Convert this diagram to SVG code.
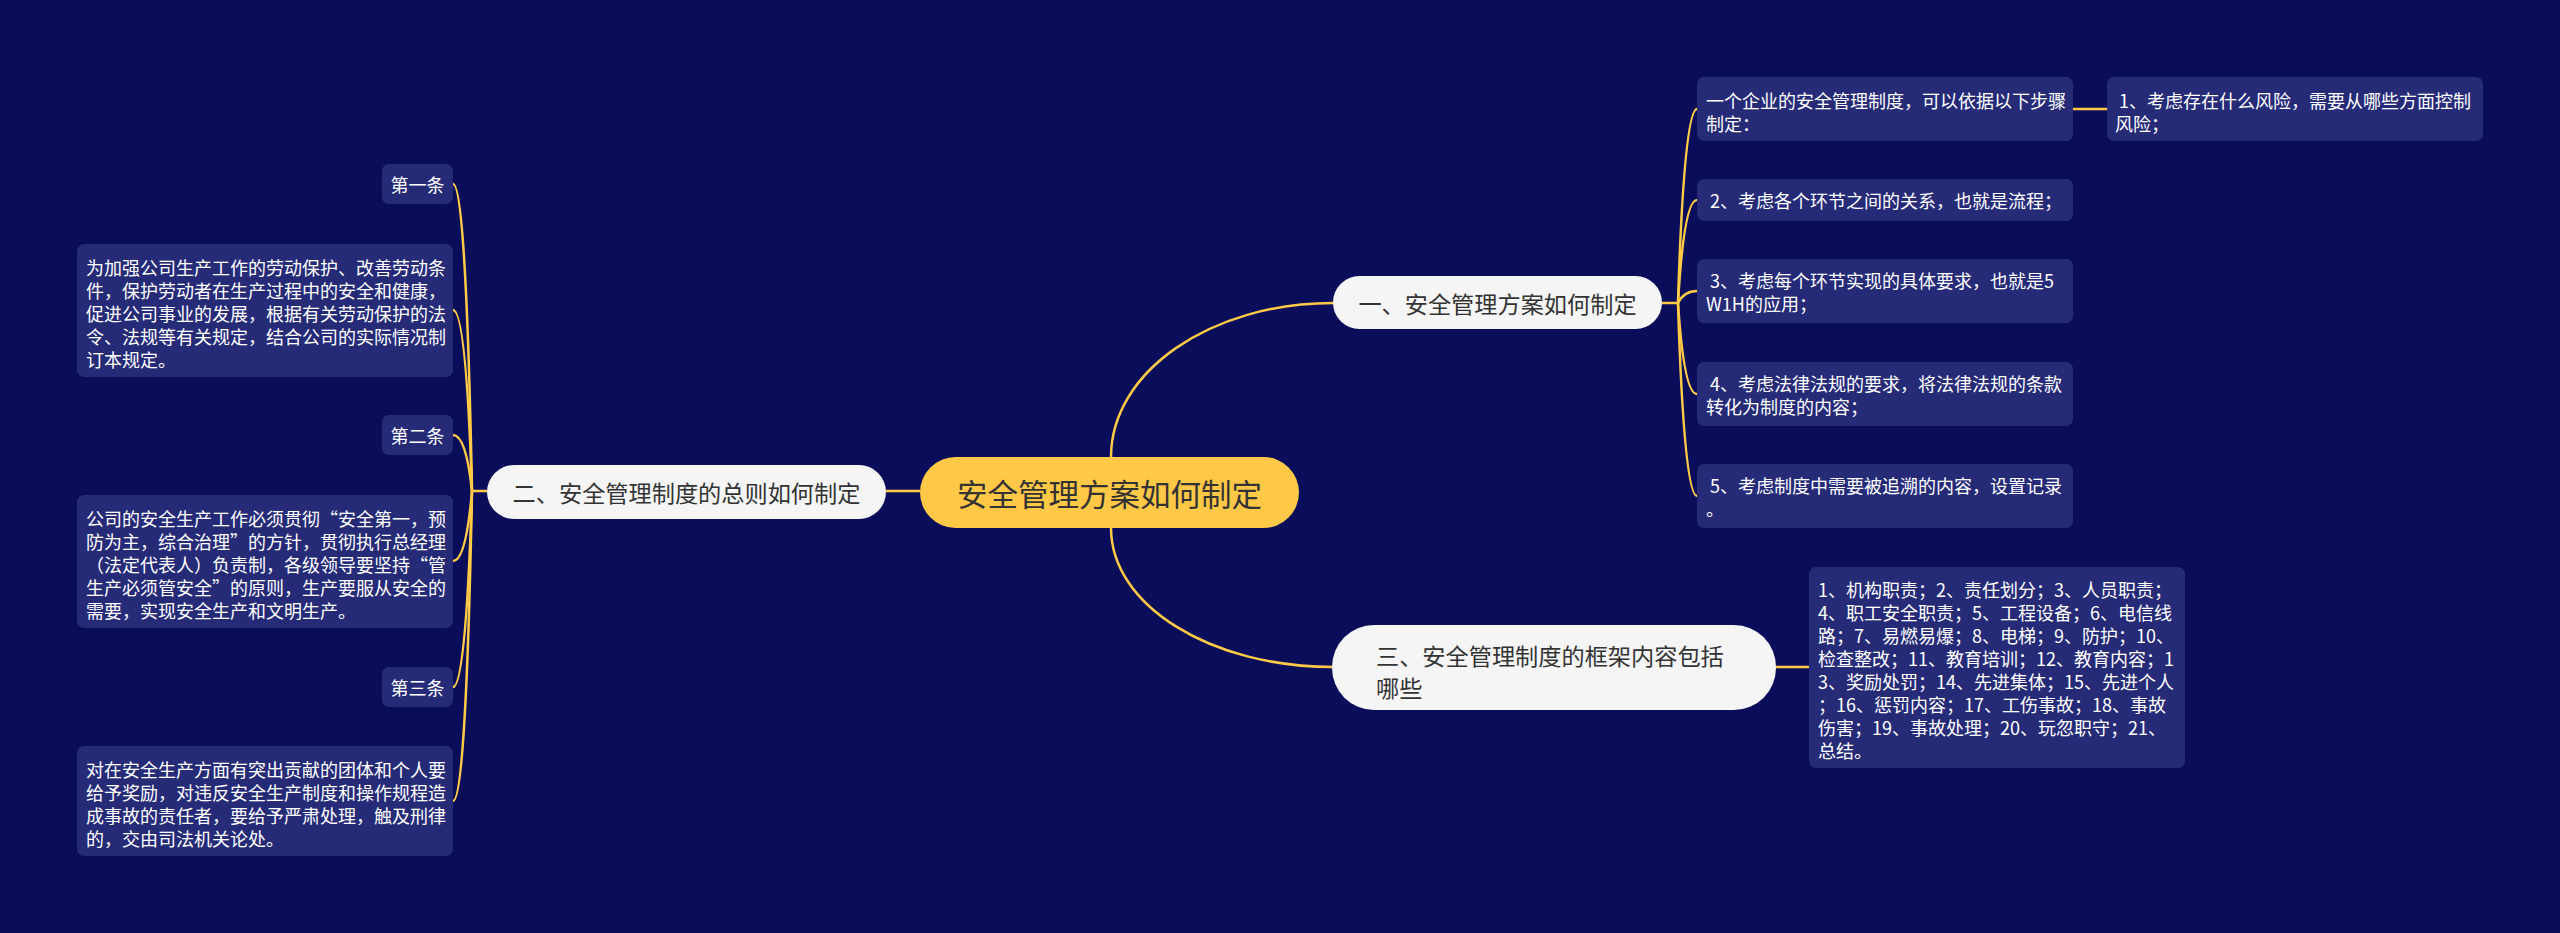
<svg xmlns="http://www.w3.org/2000/svg" width="2560" height="933" viewBox="0 0 2560 933">
<defs>
<style>
.bg{fill:#0A0E5A}
.box{fill:#262B78}
.t{font-family:"Noto Sans CJK SC","Noto Sans",sans-serif;font-size:18px;fill:#FFFFFF;dominant-baseline:central}
.l1{fill:#F5F5F5}
.l1t{font-family:"Noto Sans CJK SC","Noto Sans",sans-serif;font-size:23.2px;fill:#333333;dominant-baseline:central}
.root{fill:#FFC947}
.roott{font-family:"Noto Sans CJK SC","Noto Sans",sans-serif;font-size:30.5px;fill:#333333;dominant-baseline:central}
.c{fill:none;stroke:#FFCB47;stroke-width:2.5}
</style>
</defs>
<rect class="bg" x="0" y="0" width="2560" height="933"/>

<g id="connectors">
<path class="c" d="M1111,457 C1111,372 1210,303 1333,303"/>
<path class="c" d="M1111,528 C1111,605 1210,667 1333,667"/>
<path class="c" d="M886,491 L920,491"/>
<path class="c" d="M487,491 L472,491"/>
<path class="c" d="M472,491 Q466,184 453,184"/>
<path class="c" d="M472,491 Q466,310 453,310"/>
<path class="c" d="M472,491 Q466,435 453,435"/>
<path class="c" d="M472,491 Q466,561 453,561"/>
<path class="c" d="M472,491 Q466,687 453,687"/>
<path class="c" d="M472,491 Q466,801 453,801"/>
<path class="c" d="M1662,303 L1678,303"/>
<path class="c" d="M1678,303 Q1684,109 1697,109"/>
<path class="c" d="M1678,303 Q1684,200 1697,200"/>
<path class="c" d="M1678,303 Q1684,291 1697,291"/>
<path class="c" d="M1678,303 Q1684,394 1697,394"/>
<path class="c" d="M1678,303 Q1684,496 1697,496"/>
<path class="c" d="M2073,109 L2107,109"/>
<path class="c" d="M1776,667 L1809,667"/>
</g>

<g id="root">
<rect class="root" x="920" y="457" width="379" height="71" rx="35.5"/>
<text class="roott" x="1109.5" y="492.5" text-anchor="middle">安全管理方案如何制定</text>
</g>

<g id="n1">
<rect class="l1" x="1333" y="276" width="329" height="53" rx="26.5"/>
<text class="l1t" x="1497.5" y="302.5" text-anchor="middle">一、安全管理方案如何制定</text>
</g>

<g id="n2">
<rect class="l1" x="487" y="465" width="399" height="54" rx="27"/>
<text class="l1t" x="686.5" y="492" text-anchor="middle">二、安全管理制度的总则如何制定</text>
</g>

<g id="n3">
<rect class="l1" x="1332" y="625" width="444" height="85" rx="42"/>
<text class="l1t" x="1376" y="655">三、安全管理制度的框架内容包括</text>
<text class="l1t" x="1376" y="687">哪些</text>
</g>

<g id="n1a">
<rect class="box" x="1697" y="77" width="376" height="64" rx="7"/>
<text class="t" x="1706" y="100">一个企业的安全管理制度，可以依据以下步骤</text>
<text class="t" x="1706" y="123">制定：</text>
</g>
<g id="n1a1">
<rect class="box" x="2107" y="77" width="376" height="64" rx="7"/>
<text class="t" x="2119" y="100">1、考虑存在什么风险，需要从哪些方面控制</text>
<text class="t" x="2115" y="123">风险；</text>
</g>
<g id="n1b">
<rect class="box" x="1697" y="179" width="376" height="42" rx="7"/>
<text class="t" x="1710" y="200">2、考虑各个环节之间的关系，也就是流程；</text>
</g>
<g id="n1c">
<rect class="box" x="1697" y="259" width="376" height="64" rx="7"/>
<text class="t" x="1710" y="279.5">3、考虑每个环节实现的具体要求，也就是5</text>
<text class="t" x="1706" y="302.5">W1H的应用；</text>
</g>
<g id="n1d">
<rect class="box" x="1697" y="362" width="376" height="64" rx="7"/>
<text class="t" x="1710" y="382.5">4、考虑法律法规的要求，将法律法规的条款</text>
<text class="t" x="1706" y="405.5">转化为制度的内容；</text>
</g>
<g id="n1e">
<rect class="box" x="1697" y="464" width="376" height="64" rx="7"/>
<text class="t" x="1710" y="484.5">5、考虑制度中需要被追溯的内容，设置记录</text>
<text class="t" x="1706" y="507.5">。</text>
</g>

<g id="n3a">
<rect class="box" x="1809" y="567" width="376" height="201" rx="7"/>
<text class="t" x="1818" y="589">1、机构职责；2、责任划分；3、人员职责；</text>
<text class="t" x="1818" y="612">4、职工安全职责；5、工程设备；6、电信线</text>
<text class="t" x="1818" y="635">路；7、易燃易爆；8、电梯；9、防护；10、</text>
<text class="t" x="1818" y="658">检查整改；11、教育培训；12、教育内容；1</text>
<text class="t" x="1818" y="681">3、奖励处罚；14、先进集体；15、先进个人</text>
<text class="t" x="1818" y="704">；16、惩罚内容；17、工伤事故；18、事故</text>
<text class="t" x="1818" y="727">伤害；19、事故处理；20、玩忽职守；21、</text>
<text class="t" x="1818" y="750">总结。</text>
</g>

<g id="n2a">
<rect class="box" x="382" y="164" width="71" height="40" rx="7"/>
<text class="t" x="417.5" y="184" text-anchor="middle">第一条</text>
</g>
<g id="n2a1">
<rect class="box" x="77" y="244" width="376" height="133" rx="7"/>
<text class="t" x="86" y="267">为加强公司生产工作的劳动保护、改善劳动条</text>
<text class="t" x="86" y="290">件，保护劳动者在生产过程中的安全和健康，</text>
<text class="t" x="86" y="313">促进公司事业的发展，根据有关劳动保护的法</text>
<text class="t" x="86" y="336">令、法规等有关规定，结合公司的实际情况制</text>
<text class="t" x="86" y="359">订本规定。</text>
</g>
<g id="n2b">
<rect class="box" x="382" y="415" width="71" height="40" rx="7"/>
<text class="t" x="417.5" y="435" text-anchor="middle">第二条</text>
</g>
<g id="n2b1">
<rect class="box" x="77" y="495" width="376" height="133" rx="7"/>
<text class="t" x="86" y="518">公司的安全生产工作必须贯彻“安全第一，预</text>
<text class="t" x="86" y="541">防为主，综合治理”的方针，贯彻执行总经理</text>
<text class="t" x="86" y="564">（法定代表人）负责制，各级领导要坚持“管</text>
<text class="t" x="86" y="587">生产必须管安全”的原则，生产要服从安全的</text>
<text class="t" x="86" y="610">需要，实现安全生产和文明生产。</text>
</g>
<g id="n2c">
<rect class="box" x="382" y="667" width="71" height="40" rx="7"/>
<text class="t" x="417.5" y="687" text-anchor="middle">第三条</text>
</g>
<g id="n2c1">
<rect class="box" x="77" y="746" width="376" height="110" rx="7"/>
<text class="t" x="86" y="769">对在安全生产方面有突出贡献的团体和个人要</text>
<text class="t" x="86" y="792">给予奖励，对违反安全生产制度和操作规程造</text>
<text class="t" x="86" y="815">成事故的责任者，要给予严肃处理，触及刑律</text>
<text class="t" x="86" y="838">的，交由司法机关论处。</text>
</g>
</svg>
